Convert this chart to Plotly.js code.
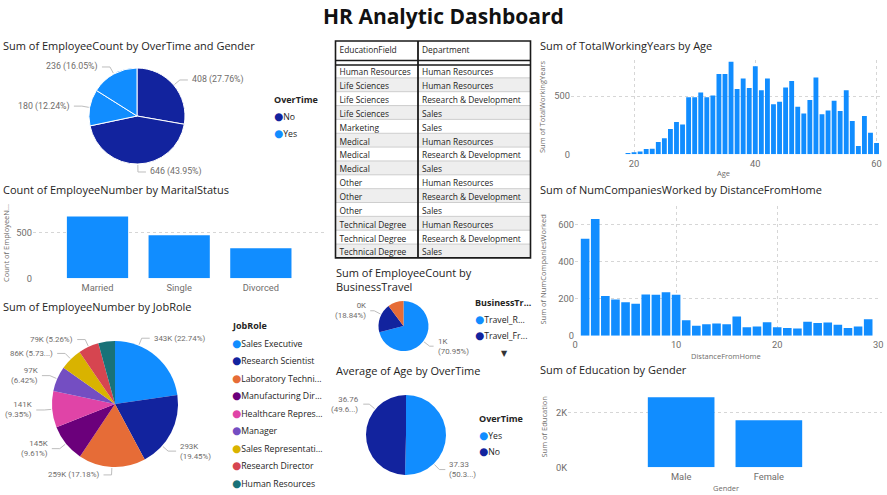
<!DOCTYPE html>
<html><head><meta charset="utf-8">
<script src="https://cdn.plot.ly/plotly-3.0.1.min.js"></script>
<style>html,body{margin:0;padding:0;background:#fff;overflow:hidden}#chart{width:887px;height:495px}</style>
</head><body><div id="chart"></div>
<script>
// ================= DATA =================
const overtimeGenderLabels = ['No - Female', 'No - Male', 'Yes - Female', 'Yes - Male'];
const overtimeGenderGroup = ['No', 'No', 'Yes', 'Yes'];
const overtimeGenderCount = [408, 646, 180, 236];
const overtimeLegend = ['No', 'Yes'];

const maritalStatus = ['Married', 'Single', 'Divorced'];
const maritalCount = [673, 470, 327];

const jobRoles = ['Sales Executive', 'Research Scientist', 'Laboratory Techni...', 'Manufacturing Dir...',
  'Healthcare Repres...', 'Manager', 'Sales Representati...', 'Research Director', 'Human Resources'];
const jobRoleEmpNumSum = [343020, 293390, 259150, 144960, 141040, 96840, 86430, 79340, 64260];
const jobRoleCallouts = ['343K (22.74%)', '293K<br>(19.45%)', '259K (17.18%)', '145K<br>(9.61%)',
  '141K<br>(9.35%)', '97K<br>(6.42%)', '86K (5.73...)', '79K (5.26%)', ''];

const educationField = ['Human Resources', 'Life Sciences', 'Life Sciences', 'Life Sciences', 'Marketing',
  'Medical', 'Medical', 'Medical', 'Other', 'Other', 'Other', 'Technical Degree', 'Technical Degree', 'Technical Degree'];
const department = ['Human Resources', 'Human Resources', 'Research & Development', 'Sales', 'Sales',
  'Human Resources', 'Research & Development', 'Sales', 'Human Resources', 'Research & Development', 'Sales',
  'Human Resources', 'Research & Development', 'Sales'];
const tableHeader = ['EducationField', 'Department'];

const businessTravel = ['Travel_Rarely', 'Travel_Frequently', 'Non-Travel'];
const businessTravelLegend = ['Travel_R...', 'Travel_Fr...'];
const businessTravelCount = [1043, 277, 150];
const businessTravelCallouts = ['1K<br>(70.95%)', '0K<br>(18.84%)', ''];

const ageOvertime = ['Yes', 'No'];
const avgAgeByOvertime = [37.33, 36.76];
const ageOvertimeCallouts = ['37.33<br>(50.3...)', '36.76<br>(49.6...)'];

const ages = [18, 19, 20, 21, 22, 23, 24, 25, 26, 27, 28, 29, 30, 31, 32, 33, 34, 35, 36, 37, 38, 39,
  40, 41, 42, 43, 44, 45, 46, 47, 48, 49, 50, 51, 52, 53, 54, 55, 56, 57, 58, 59, 60];
const totalWorkingYears = [0, 12, 18, 25, 45, 48, 105, 137, 217, 277, 257, 489, 491, 531, 489, 506, 689, 689,
  794, 560, 651, 569, 757, 551, 651, 429, 451, 574, 629, 409, 351, 466, 660, 343, 377, 460, 371, 551, 286, 71,
  329, 186, 97];

const distanceFromHome = [1, 2, 3, 4, 5, 6, 7, 8, 9, 10, 11, 12, 13, 14, 15, 16, 17, 18, 19, 20, 21, 22, 23,
  24, 25, 26, 27, 28, 29];
const numCompaniesWorked = [523, 630, 214, 196, 180, 173, 223, 221, 234, 221, 84, 54, 62, 66, 62, 104, 46, 50,
  73, 46, 41, 39, 75, 68, 71, 59, 41, 50, 89];

const genders = ['Male', 'Female'];
const educationSum = [2542, 1711];

// ================= STYLE / LAYOUT =================
const W = 887, H = 495;
const px = x => x / W;
const py = y => 1 - y / H;
const FONT = 'Open Sans, Noto Sans, DejaVu Sans, sans-serif';
const NUMFONT = 'Roboto, Open Sans, sans-serif';
const C_LIGHT = '#118DFF', C_DARK = '#12239E';
const jobColors = ['#118DFF', '#12239E', '#E66C37', '#6B007B', '#E044A7', '#744EC2', '#D9B300', '#D64550', '#197278'];
const btColors = ['#118DFF', '#12239E', '#E66C37'];
const TXT = '#252423', AX = '#6f6d6b', GRID = '#d6d6d6';

const annotations = [];
const shapes = [];

function text(x, y, t, o) {
  o = o || {};
  annotations.push({
    xref: 'paper', yref: 'paper', x: px(x), y: py(y), text: t, showarrow: false,
    xanchor: o.xanchor || 'left', yanchor: 'middle', align: o.align || 'left', textangle: o.angle || 0,
    font: {family: o.family || FONT, size: o.size || 11, color: o.color || TXT}
  });
}

function pieDomain(cx, cy, r) {
  return {x: [px(cx - r), px(cx + r)], y: [py(cy + r), py(cy - r)]};
}

function callouts(cx, cy, r, values, texts, fracs, ext, hor, size) {
  const total = values.reduce((a, b) => a + b, 0);
  let cum = 0;
  values.forEach((v, i) => {
    const f = fracs ? fracs[i] : 0.5;
    const a = 2 * Math.PI * (cum + v * f) / total;
    cum += v;
    if (!texts[i]) return;
    const s = Math.sin(a), c = Math.cos(a), side = s >= 0 ? 1 : -1;
    const p0 = [cx + (r + 1) * s, cy - (r + 1) * c];
    const p1 = [cx + (r + ext) * s, cy - (r + ext) * c];
    const p2 = [p1[0] + side * hor, p1[1]];
    shapes.push({type: 'path', xref: 'paper', yref: 'paper',
      path: `M${px(p0[0])},${py(p0[1])} L${px(p1[0])},${py(p1[1])} L${px(p2[0])},${py(p2[1])}`,
      line: {color: '#bdbdbd', width: 1}});
    text(p2[0] + side * 2, p2[1], texts[i], {xanchor: side > 0 ? 'left' : 'right', align: side > 0 ? 'left' : 'right',
      size: size, color: '#6f6d6b', family: NUMFONT});
  });
}

function legend(x, y0, title, labels, colors, step) {
  text(x, y0, '<b>' + title + '</b>', {size: 9});
  labels.forEach((l, i) => {
    text(x, y0 + (i + 1) * step, `<span style="color:${colors[i]};font-size:10.5px">●</span>${l}`, {size: 8.7});
  });
}

// Dashboard title
text(443, 16, '<b>HR Analytic Dashboard</b>', {xanchor: 'center', size: 21, color: '#111'});

// Chart titles
text(1, 45.5, 'Sum of EmployeeCount by OverTime and Gender');
text(1, 189, 'Count of EmployeeNumber by MaritalStatus');
text(1, 306, 'Sum of EmployeeNumber by JobRole');
text(334, 272, 'Sum of EmployeeCount by');
text(334, 286, 'BusinessTravel');
text(334, 370, 'Average of Age by OverTime');
text(538, 45.5, 'Sum of TotalWorkingYears by Age');
text(538, 189.5, 'Sum of NumCompaniesWorked by DistanceFromHome');
text(538, 369.5, 'Sum of Education by Gender');

// Axis titles
const axT = {size: 7.5, color: AX};
text(6, 243, 'Count of EmployeeN...', Object.assign({angle: -90, xanchor: 'center'}, axT));
text(542, 107, 'Sum of TotalWorkingYears', Object.assign({angle: -90, xanchor: 'center'}, axT));
text(723, 172.5, 'Age', Object.assign({xanchor: 'center'}, axT));
text(542.5, 270, 'Sum of NumCompaniesWorked', Object.assign({angle: -90, xanchor: 'center'}, axT));
text(726, 355.5, 'DistanceFromHome', Object.assign({xanchor: 'center'}, axT));
text(543.5, 427, 'Sum of Education', Object.assign({angle: -90, xanchor: 'center'}, axT));
text(726, 487.5, 'Gender', Object.assign({xanchor: 'center'}, axT));

// Pies geometry [cx, cy, r] in pixels
const P1 = [137, 116, 48], PJ = [115, 404, 63], PB = [403.5, 326, 25], PA = [406, 435, 40];

const pie1Total = overtimeGenderCount.reduce((a, b) => a + b, 0);
const pie1Text = overtimeGenderCount.map(v => `${v} (${(v / pie1Total * 100).toFixed(2)}%)`);
callouts(P1[0], P1[1], P1[2], overtimeGenderCount, pie1Text, null, 8, 8, 8.8);
callouts(PJ[0], PJ[1], PJ[2], jobRoleEmpNumSum, jobRoleCallouts, [0.27, 0.71, 0.5, 0.5, 0.5, 0.5, 0.5, 0.5, 0.5], 8, 8, 7.9);
callouts(PB[0], PB[1], PB[2], businessTravelCount, businessTravelCallouts, [0.5, 0.62, 0.5], 8, 4, 7.9);
callouts(PA[0], PA[1], PA[2], avgAgeByOvertime, ageOvertimeCallouts, [0.75, 0.72], 8, 6, 7.9);

// Legends
legend(272, 100, 'OverTime', overtimeLegend, [C_DARK, C_LIGHT], 16.5);
legend(229.5, 325, 'JobRole', jobRoles, jobColors, 17.5);
legend(472.5, 302, 'BusinessTr...', businessTravelLegend, btColors, 16.5);
text(499, 352, '▼', {size: 8, color: '#333'});
legend(477.5, 418, 'OverTime', ageOvertime, [C_LIGHT, C_DARK], 16.5);

// Table frame (pixels)
const TX0 = 335.5, TX1 = 530.5, TY0 = 41, HDR = 23, ROWH = 13.85, TCOL = 418, TSHIFT = 4, TLIFT = 3;
const THB = TY0 + HDR, TY1 = THB + ROWH * educationField.length;
// zebra row shading under the table text
educationField.forEach((_, k) => {
  if (k % 2 === 1) {
    shapes.push({type: 'rect', layer: 'below', xref: 'paper', yref: 'paper', x0: px(TX0), x1: px(TX1),
      y0: py(THB + (k + 1) * ROWH), y1: py(THB + k * ROWH), fillcolor: '#eeeeee', line: {width: 0}});
  }
  if (k > 0) {
    const yy = THB + k * ROWH;
    shapes.push({type: 'line', xref: 'paper', yref: 'paper', x0: px(TX0), x1: px(TX1), y0: py(yy), y1: py(yy),
      line: {color: '#c4c4c4', width: 0.8}});
  }
});
shapes.push({type: 'rect', xref: 'paper', yref: 'paper', x0: px(TX0), x1: px(TX1), y0: py(TY1), y1: py(TY0), line: {color: '#1a1a1a', width: 1.6}});
shapes.push({type: 'line', xref: 'paper', yref: 'paper', x0: px(TCOL), x1: px(TCOL), y0: py(TY1), y1: py(TY0), line: {color: '#1a1a1a', width: 1.8}});
shapes.push({type: 'line', xref: 'paper', yref: 'paper', x0: px(TX0), x1: px(TX1), y0: py(THB - 3.5), y1: py(THB - 3.5), line: {color: '#1a1a1a', width: 1.6}});
shapes.push({type: 'line', xref: 'paper', yref: 'paper', x0: px(TX0), x1: px(TX1), y0: py(THB + 1), y1: py(THB + 1), line: {color: '#1a1a1a', width: 1.6}});

// table text: non-breaking spaces (no wrap); the '&' part goes to the cell suffix so the row keeps its height
const nb = s => s.replace(/ /g, '\u00a0');
const head = arr => arr.map(s => { const i = s.indexOf('&'); return nb(i < 0 ? s : s.slice(0, i)); });
const tail = arr => arr.map(s => { const i = s.indexOf('&'); return i < 0 ? '' : nb(s.slice(i)); });
const CLEAR = 'rgba(0,0,0,0)';

const barStyle = {color: C_LIGHT, line: {width: 0}};
const data = [
  {type: 'pie', labels: overtimeGenderLabels, values: overtimeGenderCount, sort: false, direction: 'clockwise',
   domain: pieDomain(...P1), textinfo: 'none', showlegend: false,
   marker: {colors: overtimeGenderGroup.map(g => g === 'No' ? C_DARK : C_LIGHT), line: {color: '#ffffff', width: 1}}},
  {type: 'pie', labels: jobRoles, values: jobRoleEmpNumSum, sort: false, direction: 'clockwise',
   domain: pieDomain(...PJ), textinfo: 'none', showlegend: false,
   marker: {colors: jobColors, line: {color: '#ffffff', width: 0}}},
  {type: 'pie', labels: businessTravel, values: businessTravelCount, sort: false, direction: 'clockwise',
   domain: pieDomain(...PB), textinfo: 'none', showlegend: false,
   marker: {colors: btColors, line: {color: '#ffffff', width: 0}}},
  {type: 'pie', labels: ageOvertime, values: avgAgeByOvertime, sort: false, direction: 'clockwise',
   domain: pieDomain(...PA), textinfo: 'none', showlegend: false,
   marker: {colors: [C_LIGHT, C_DARK], line: {color: '#ffffff', width: 0}}},
  {type: 'table', domain: {x: [px(TX0 - TSHIFT), px(TX1)], y: [py(TY1 + 6), py(TY0 - TLIFT + 1)]},
   columnwidth: [TCOL - TX0, TX1 - (TCOL - TSHIFT)],
   header: {values: tableHeader, align: 'left', height: HDR - 1, fill: {color: CLEAR},
     line: {color: CLEAR, width: 0}, font: {family: FONT, size: 8.4, color: TXT}},
   cells: {values: [head(educationField), head(department)], suffix: [tail(educationField), tail(department)],
     align: 'left', height: ROWH, fill: {color: CLEAR}, line: {color: CLEAR, width: 0},
     font: {family: FONT, size: 8.4, color: TXT}}},
  {type: 'bar', x: maritalStatus, y: maritalCount, xaxis: 'x', yaxis: 'y', width: 0.75, marker: barStyle, showlegend: false},
  {type: 'bar', x: ages, y: totalWorkingYears, xaxis: 'x2', yaxis: 'y2', width: 0.8, marker: barStyle, showlegend: false},
  {type: 'bar', x: distanceFromHome, y: numCompaniesWorked, xaxis: 'x3', yaxis: 'y3', width: 0.85, marker: barStyle, showlegend: false},
  {type: 'bar', x: genders, y: educationSum, xaxis: 'x4', yaxis: 'y4', width: 0.76, marker: barStyle, showlegend: false}
];

const tickF = {family: NUMFONT, size: 9.3, color: AX};
const baseX = {showline: false, zeroline: false, ticks: '', tickfont: tickF, fixedrange: true, ticklabelstandoff: 2};
const baseY = {showline: false, zeroline: false, ticks: '', tickfont: tickF, fixedrange: true,
  showgrid: true, gridcolor: GRID, griddash: 'dot', gridwidth: 1};
const gridX = {showgrid: true, gridcolor: GRID, griddash: 'dot', gridwidth: 1};

const layout = {
  width: W, height: H, margin: {l: 0, r: 0, t: 0, b: 0}, paper_bgcolor: '#ffffff', plot_bgcolor: 'rgba(0,0,0,0)',
  showlegend: false, font: {family: FONT},
  xaxis: Object.assign({}, baseX, {domain: [px(33), px(327)], type: 'category', range: [-0.79, 2.81], showgrid: false, anchor: 'y'}),
  yaxis: Object.assign({}, baseY, {domain: [py(278.3), py(214)], range: [0, 700], tickvals: [0, 500], anchor: 'x'}),
  xaxis2: Object.assign({}, baseX, gridX, {domain: [px(571), px(882)], range: [9.6, 60.9], tickvals: [20, 40, 60], anchor: 'y2'}),
  yaxis2: Object.assign({}, baseY, {domain: [py(154.3), py(60)], range: [0, 810], tickvals: [0, 500], anchor: 'x2'}),
  xaxis3: Object.assign({}, baseX, gridX, {domain: [px(575), px(878.3)], range: [0, 30], tickvals: [0, 10, 20, 30], anchor: 'y3'}),
  yaxis3: Object.assign({}, baseY, {domain: [py(335.7), py(206)], range: [0, 700], tickvals: [0, 200, 400, 600], anchor: 'x3'}),
  xaxis4: Object.assign({}, baseX, {domain: [px(568), px(882)], type: 'category', range: [-1.29, 2.29], showgrid: false, anchor: 'y4'}),
  yaxis4: Object.assign({}, baseY, {domain: [py(467.3), py(393)], range: [0, 2700], tickvals: [0, 2000], ticktext: ['0K', '2K'], anchor: 'x4'}),
  annotations: annotations,
  shapes: shapes
};

Plotly.newPlot('chart', data, layout, {displayModeBar: false, staticPlot: true});
</script>
</body></html>
